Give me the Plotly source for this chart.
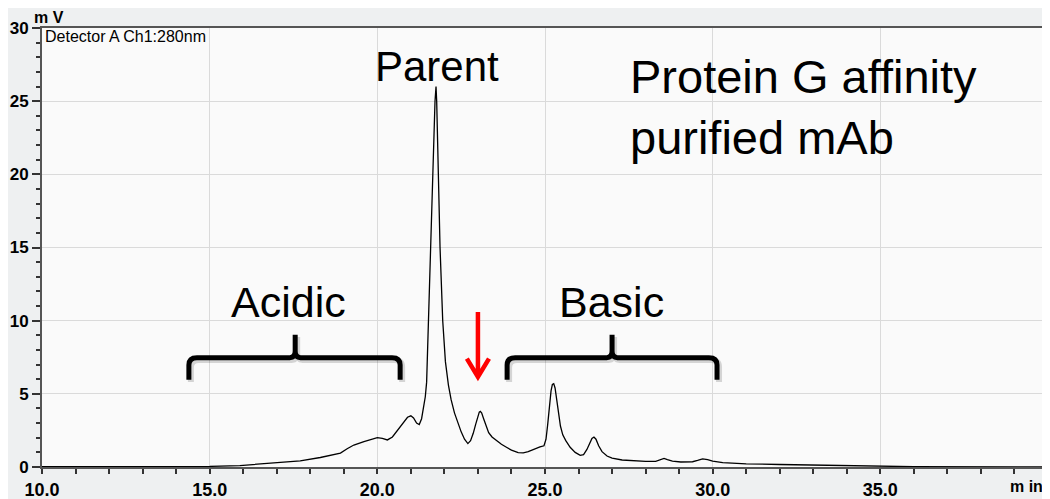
import plotly.graph_objects as go

# Chromatogram trace (retention time in min, signal in mV)
time_min = [10.0, 13.0, 15.0, 15.9, 16.7, 17.2, 17.7, 18.3, 18.9, 19.1, 19.3, 19.6, 19.85, 20.0,
            20.15, 20.3, 20.45, 20.6, 20.75, 20.9, 21.0, 21.08, 21.17, 21.25, 21.32, 21.38, 21.43,
            21.47, 21.52, 21.6, 21.67, 21.72, 21.75, 21.77, 21.82, 21.87, 21.95, 22.03, 22.12, 22.2,
            22.3, 22.4, 22.5, 22.6, 22.7, 22.78, 22.86, 22.93, 22.99, 23.04, 23.07, 23.11, 23.17,
            23.24, 23.32, 23.42, 23.55, 23.7, 23.85, 24.0, 24.2, 24.35, 24.5, 24.7, 24.85, 24.97,
            25.03, 25.08, 25.13, 25.18, 25.22, 25.26, 25.3, 25.35, 25.4, 25.46, 25.53, 25.62, 25.75,
            25.9, 26.05, 26.15, 26.25, 26.33, 26.4, 26.46, 26.52, 26.6, 26.7, 26.85, 27.0, 27.3,
            27.6, 28.0, 28.3, 28.45, 28.55, 28.65, 28.8, 29.05, 29.4, 29.55, 29.7, 29.85, 30.0,
            30.3, 31.0, 32.0, 33.0, 34.5, 36.0, 40.0]
signal_mv = [0.02, 0.02, 0.04, 0.1, 0.25, 0.33, 0.42, 0.65, 0.95, 1.25, 1.5, 1.73, 1.9, 2.0,
             1.95, 1.85, 2.05, 2.5, 3.0, 3.4, 3.5, 3.35, 3.0, 2.9, 3.3, 4.0, 4.8,
             5.8, 10.0, 15.0, 21.0, 25.0, 26.0, 25.0, 20.0, 15.0, 10.0, 7.2, 5.6, 4.6,
             3.7, 3.0, 2.4, 1.9, 1.6, 1.8, 2.3, 2.9, 3.45, 3.75, 3.8, 3.7, 3.3,
             2.8, 2.35, 2.05, 1.8, 1.55, 1.35, 1.15, 0.98, 0.97, 1.05, 1.25, 1.38, 1.45,
             1.9, 2.9, 4.2, 5.2, 5.65, 5.7, 5.4, 4.6, 3.6, 2.8, 2.2, 1.8, 1.35,
             1.0, 0.8, 0.85, 1.2, 1.6, 1.95, 2.05, 1.9, 1.45, 1.05, 0.75, 0.6, 0.48,
             0.42, 0.38, 0.38, 0.5, 0.58, 0.5, 0.4, 0.34, 0.36, 0.45, 0.55, 0.5, 0.4,
             0.3, 0.22, 0.17, 0.12, 0.05, 0.02, 0.0]

x_tickvals = [10, 15, 20, 25, 30, 35]
x_ticktext = ["10.0", "15.0", "20.0", "25.0", "30.0", "35.0"]
y_tickvals = [0, 5, 10, 15, 20, 25, 30]
y_ticktext = ["0", "5", "10", "15", "20", "25", "30"]

# Annotation texts
detector_label = "Detector A Ch1:280nm"
parent_label = "Parent"
sample_label = "Protein G affinity<br>purified mAb"
acidic_label = "Acidic"
basic_label = "Basic"

# Brackets (left, centre, right in min)
acidic_bracket = (14.38, 17.55, 20.68)
basic_bracket = (23.87, 27.0, 30.13)
bracket_levels = (5.96, 7.47, 9.04)  # bottom, bar, cusp top (mV)
arrow_x = 23.0
arrow_y = (10.6, 6.16)

FONT = "Arial, 'Liberation Sans', sans-serif"

fig = go.Figure()
fig.add_trace(go.Scatter(x=time_min, y=signal_mv, mode="lines",
                         line=dict(color="#000000", width=1.3), showlegend=False,
                         hoverinfo="skip"))


def bracket_path(left, centre, right, levels):
    yb, yh, yt = levels
    rx, ry = 0.24, 0.5
    cx, cy = 0.16, 0.45
    return (f"M {left},{yb} L {left},{yh - ry} Q {left},{yh} {left + rx},{yh} "
            f"L {centre - cx},{yh} Q {centre},{yh} {centre},{yh + cy} L {centre},{yt} "
            f"L {centre},{yh + cy} Q {centre},{yh} {centre + cx},{yh} "
            f"L {right - rx},{yh} Q {right},{yh} {right},{yh - ry} L {right},{yb}")


for br in (acidic_bracket, basic_bracket):
    # soft shadow
    fig.add_shape(type="path", xref="x", yref="y",
                  path=bracket_path(br[0] + 0.06, br[1] + 0.06, br[2] + 0.06,
                                    tuple(v - 0.15 for v in bracket_levels)),
                  line=dict(color="rgba(0,0,0,0.15)", width=6))
    fig.add_shape(type="path", xref="x", yref="y",
                  path=bracket_path(*br, bracket_levels),
                  line=dict(color="#000000", width=5))

# red arrow
fig.add_shape(type="path", xref="x", yref="y",
              path=(f"M {arrow_x},{arrow_y[0]} L {arrow_x},{arrow_y[1] + 0.2} "
                    f"M {arrow_x - 0.33},{arrow_y[1] + 1.25} L {arrow_x},{arrow_y[1]} "
                    f"L {arrow_x + 0.33},{arrow_y[1] + 1.25}"),
              line=dict(color="#ff0000", width=4.5))

ann = [
    dict(x=10.03, y=29.45, text=detector_label, xanchor="left", yanchor="middle",
         font=dict(size=16, color="#000"), showarrow=False),
    dict(x=21.78, y=27.4, text=parent_label, xanchor="center", yanchor="middle",
         font=dict(size=42, color="#000"), showarrow=False),
    dict(x=27.48, y=24.6, text=sample_label, xanchor="left", yanchor="middle", align="left",
         font=dict(size=47, color="#000"), showarrow=False),
    dict(x=17.35, y=11.3, text=acidic_label, xanchor="center", yanchor="middle",
         font=dict(size=43, color="#000"), showarrow=False),
    dict(x=26.98, y=11.3, text=basic_label, xanchor="center", yanchor="middle",
         font=dict(size=43, color="#000"), showarrow=False),
    dict(x=0.007, y=1.025, xref="paper", yref="paper", text="<b>m V</b>",
         xanchor="center", yanchor="middle", font=dict(size=16, color="#000"), showarrow=False),
    dict(x=0.997, y=-0.045, xref="paper", yref="paper", text="<b>m in</b>",
         xanchor="right", yanchor="middle", font=dict(size=16, color="#000"), showarrow=False),
]

# The page adds an 8 px body margin, so the figure is 8 px smaller than the window
fig.update_layout(
    width=1042, height=491,
    margin=dict(l=34, r=2, t=20, b=32, autoexpand=False),
    paper_bgcolor="#eef0f1",
    plot_bgcolor="#fafafa",
    font=dict(family=FONT, color="#000"),
    annotations=ann,
    showlegend=False,
)

fig.update_xaxes(range=[10, 40], tickvals=x_tickvals,
                 ticktext=[f"<b>{t}</b>" for t in x_ticktext], automargin=False,
                 ticks="outside", ticklen=5, tickwidth=1.5, tickcolor="#333",
                 tickfont=dict(size=18, family=FONT), ticklabelstandoff=0,
                 showgrid=True, gridcolor="#dadada", gridwidth=1,
                 showline=True, linecolor="#555", linewidth=2, mirror=True,
                 zeroline=False,
                 minor=dict(dtick=1, tick0=10, ticks="outside", ticklen=5, tickwidth=1.5,
                            tickcolor="#333", showgrid=False))
fig.update_yaxes(range=[0, 30], tickvals=y_tickvals,
                 ticktext=[f"<b>{t}</b>" for t in y_ticktext], automargin=False,
                 ticks="outside", ticklen=8, tickwidth=1.5, tickcolor="#333",
                 tickfont=dict(size=17, family=FONT),
                 showgrid=True, gridcolor="#dadada", gridwidth=1,
                 showline=True, linecolor="#555", linewidth=2, mirror=True,
                 zeroline=False,
                 minor=dict(dtick=1, tick0=0, ticks="outside", ticklen=4, tickwidth=1.5,
                            tickcolor="#333", showgrid=False))

fig.write_html("out.html")
